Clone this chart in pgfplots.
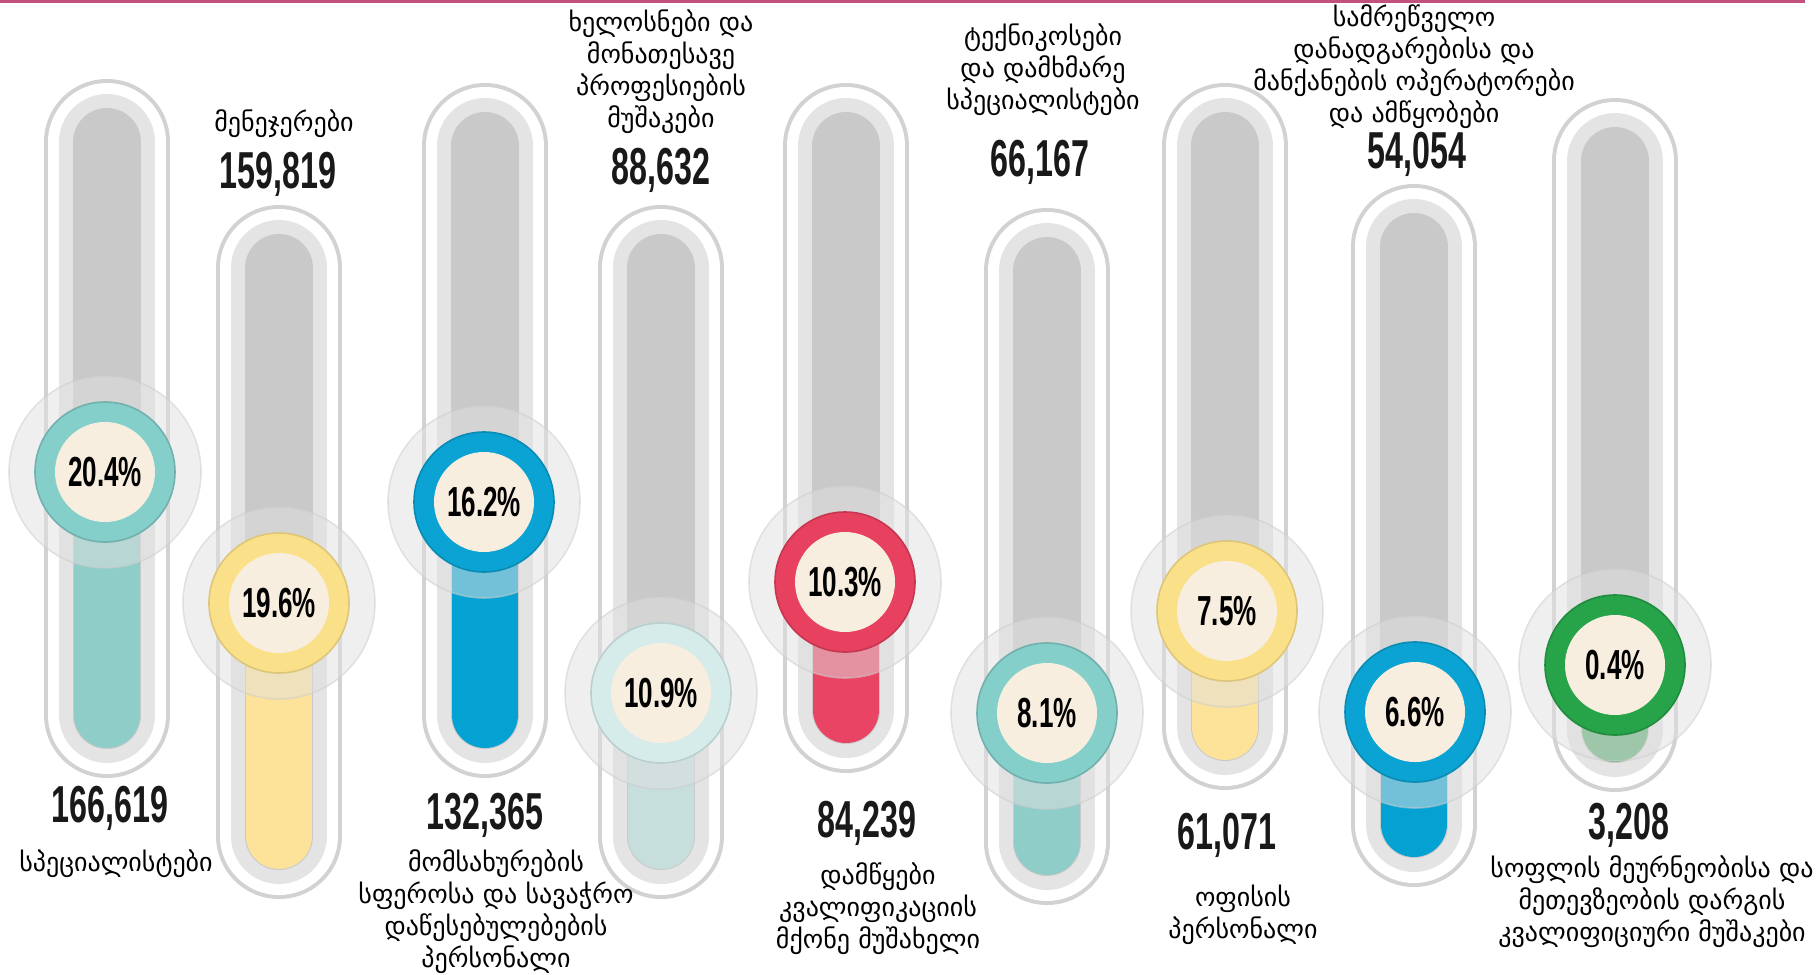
\documentclass[border=0pt]{standalone}
\usepackage{fontspec}
\usepackage{pgfplots}
\usepackage{pgfplotstable}
\pgfplotsset{compat=1.18}
\setmainfont{DejaVu Sans}
\newfontfamily\geo{DejaVu Sans}
\IfFontExistsTF{Liberation Sans Narrow}
  {\newfontfamily\numf{Liberation Sans Narrow}[FakeStretch=0.76]}
  {\newfontfamily\numf{Liberation Sans}[FakeStretch=0.62]}

\definecolor{topline}{HTML}{C4507F}
\definecolor{tshadow}{HTML}{D2D2D2}
\definecolor{trim}{HTML}{E4E4E4}
\definecolor{tcore}{HTML}{C9C9C9}
\definecolor{cream}{HTML}{F8EEDF}
\definecolor{cteal}{HTML}{85CFCA}
\definecolor{fteal}{HTML}{8FCDC8}
\definecolor{cyel}{HTML}{FBE08A}
\definecolor{fyel}{HTML}{FDE399}
\definecolor{cblue}{HTML}{0BA3D3}
\definecolor{fblue}{HTML}{04A2D2}
\definecolor{cpale}{HTML}{D5ECEA}
\definecolor{fpale}{HTML}{C6DEDC}
\definecolor{cred}{HTML}{E8405F}
\definecolor{fred}{HTML}{E94463}
\definecolor{cgreen}{HTML}{27A449}
\definecolor{fgreen}{HTML}{52A96A}

% tube centre lines (pixel coordinates, y downwards)
\pgfplotstableread{
x y
107 142
107 715
nan nan
279 268
279 836
nan nan
485 146
485 715
nan nan
661 268
661 836
nan nan
846 146
846 710
nan nan
1047 271
1047 842
nan nan
1225 146
1225 727
nan nan
1414 247
1414 824
nan nan
1615 161
1615 729
}\tubes

% circle centres and share
\pgfplotstableread{
x y pct
105 472 20.4\%
279 603 19.6\%
484 502 16.2\%
661 693 10.9\%
845 582 10.3\%
1047 713 8.1\%
1227 611 7.5\%
1415 712 6.6\%
1615 665 0.4\%
}\centres

% employed persons
\pgfplotstableread{
x y val
110 808 166,619
278 174 159,819
485 815 132,365
661 170 88,632
867 823 84,239
1040 162 66,167
1227 835 61,071
1417 154 54,054
1629 825 3,208
}\values

\begin{document}
\begin{tikzpicture}
\path[use as bounding box] (0,0) rectangle (454.5pt,243.5pt);
\begin{axis}[at={(0,0)}, anchor=south west, scale only axis,
  width=454.5pt, height=243.5pt,
  xmin=0, xmax=1818, ymin=0, ymax=974, y dir=reverse,
  hide axis, clip=false]

\addplot[topline, line width=0.8pt] coordinates {(0,1.5) (1805,1.5)};

% tubes
\addplot[tshadow, line width=31.5pt, line cap=round, unbounded coords=jump] table[x=x,y=y] {\tubes};
\addplot[white, line width=29.5pt, line cap=round, unbounded coords=jump] table[x=x,y=y] {\tubes};
\addplot[trim, line width=24pt, line cap=round, unbounded coords=jump] table[x=x,y=y] {\tubes};
\addplot[tcore, line width=17pt, line cap=round, unbounded coords=jump] table[x=x,y=y] {\tubes};

% coloured fills
\addplot[fteal, line width=16.5pt, line cap=round, unbounded coords=jump] coordinates {(107,472) (107,715) (nan,nan) (1047,713) (1047,842)};
\addplot[fyel, line width=16.5pt, line cap=round, unbounded coords=jump] coordinates {(279,603) (279,836) (nan,nan) (1225,611) (1225,727)};
\addplot[fblue, line width=16.5pt, line cap=round, unbounded coords=jump] coordinates {(485,502) (485,715) (nan,nan) (1414,712) (1414,824)};
\addplot[fpale, line width=16.5pt, line cap=round] coordinates {(661,693) (661,836)};
\addplot[fred, line width=16.5pt, line cap=round] coordinates {(846,582) (846,710)};
\addplot[fgreen, line width=16.5pt, line cap=round, opacity=0.9] coordinates {(1615,665) (1615,729)};

% halos
\addplot[only marks, mark=*, mark size=24pt, mark options={fill=black!12, draw=black!20, line width=0.4pt, opacity=0.5}] table[x=x,y=y] {\centres};

% coloured rings
\addplot[only marks, mark=*, mark size=17.5pt, mark options={fill=cteal, draw=cteal!85!black, line width=0.4pt}] coordinates {(105,472) (1047,713)};
\addplot[only marks, mark=*, mark size=17.5pt, mark options={fill=cyel, draw=cyel!88!black, line width=0.4pt}] coordinates {(279,603) (1227,611)};
\addplot[only marks, mark=*, mark size=17.5pt, mark options={fill=cblue, draw=cblue!85!black, line width=0.4pt}] coordinates {(484,502) (1415,712)};
\addplot[only marks, mark=*, mark size=17.5pt, mark options={fill=cpale, draw=cpale!88!black, line width=0.4pt}] coordinates {(661,693)};
\addplot[only marks, mark=*, mark size=17.5pt, mark options={fill=cred, draw=cred!85!black, line width=0.4pt}] coordinates {(845,582)};
\addplot[only marks, mark=*, mark size=17.5pt, mark options={fill=cgreen, draw=cgreen!85!black, line width=0.4pt}] coordinates {(1615,665)};

% inner discs with shares
\addplot[cream, only marks, mark=*, mark size=12.3pt, mark options={fill=cream, draw=cream},
  nodes near coords, point meta=explicit symbolic,
  nodes near coords style={anchor=center, font=\numf\bfseries\fontsize{10.5}{11}\selectfont, text=black}]
  table[x=x,y=y,meta=pct] {\centres};

% numbers
\addplot[only marks, mark=none, nodes near coords, point meta=explicit symbolic,
  nodes near coords style={anchor=center, font=\numf\bfseries\fontsize{13}{14}\selectfont, text=black!90}]
  table[x=x,y=y,meta=val] {\values};

% occupation names
\addplot[only marks, mark=none, nodes near coords, point meta=explicit symbolic,
  nodes near coords style={anchor=center, align=center, font=\geo\fontsize{6.5}{8}\selectfont, text=black}]
  coordinates {
  (116,864) [{სპეციალისტები}]
  (284,124) [{მენეჯერები}]
  (496,912) [{მომსახურების\\სფეროსა და სავაჭრო\\დაწესებულებების\\პერსონალი}]
  (661,72) [{ხელოსნები და\\მონათესავე\\პროფესიების\\მუშაკები}]
  (878,909) [{დამწყები\\კვალიფიკაციის\\მქონე მუშახელი}]
  (1043,70) [{ტექნიკოსები\\და დამხმარე\\სპეციალისტები}]
  (1243,915) [{ოფისის\\პერსონალი}]
  (1414,67) [{სამრეწველო\\დანადგარებისა და\\მანქანების ოპერატორები\\და ამწყობები}]
  (1652,902) [{სოფლის მეურნეობისა და\\მეთევზეობის დარგის\\კვალიფიციური მუშაკები}]
  };
\end{axis}
\end{tikzpicture}
\end{document}
